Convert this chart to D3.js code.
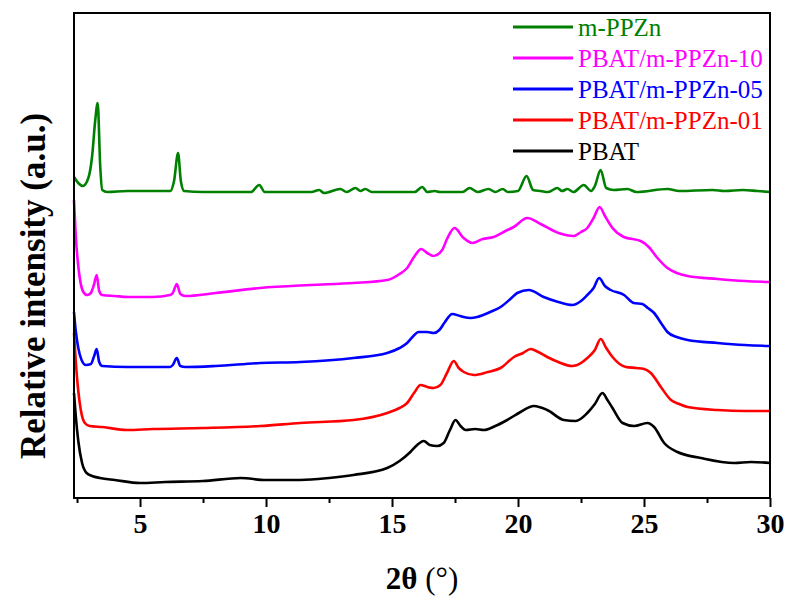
<!DOCTYPE html>
<html>
<head>
<meta charset="utf-8">
<script src="https://cdn.jsdelivr.net/npm/d3@7"></script>
<style>
  body { margin: 0; background: #fff; }
  svg { display: block; font-family: "Liberation Serif", "Times New Roman", serif; }
</style>
</head>
<body>
<svg id="xrd" width="788" height="596"></svg>
<script>
// XRD patterns, [2theta, relative intensity (a.u., stacked with offsets)]
const pbat = [[2.38,103],[2.45,80],[2.55,55],[2.7,33],[2.88,23],[3.1,20],[3.41,18],[4.0,16],[5.0,13],[6.0,14],[7.5,15],[9.0,18],[10.0,16],[11.36,16],[12.5,18],[13.47,21],[14.81,28],[15.3,35],[15.73,44],[16.0,51],[16.26,55],[16.5,51],[16.79,50],[17.05,53],[17.3,66],[17.52,76],[17.72,70],[17.92,66],[18.3,67],[18.64,66],[19.1,70],[19.57,76],[20.1,84],[20.63,90],[21.16,86],[21.82,76],[22.29,75],[22.75,83],[23.05,92],[23.35,103],[23.55,96],[23.75,88],[24.15,73],[24.61,70],[25.14,73],[25.4,69],[25.8,53],[26.33,44],[27.26,38],[28.58,33],[29.25,34],[30.0,33]];
const pbat01 = [[2.38,163],[2.45,135],[2.55,105],[2.65,86],[2.81,73],[3.0,70],[3.5,69],[4.48,66],[5.5,67],[7.5,68],[9.77,70],[11.36,73],[13.47,76],[14.81,83],[15.3,88],[15.6,93],[15.9,104],[16.13,111],[16.4,109],[16.65,108],[16.92,111],[17.2,124],[17.45,135],[17.65,128],[17.85,124],[18.25,121],[18.8,124],[19.31,128],[19.84,139],[20.2,143],[20.5,147],[20.8,144],[21.16,139],[21.6,134],[22.16,130],[22.5,133],[22.75,138],[23.05,146],[23.28,157],[23.5,148],[23.75,139],[24.28,129],[24.7,128],[25.0,127],[25.27,123],[25.67,109],[26.07,96],[26.4,92],[26.73,89],[27.92,86],[29.0,85],[30.0,85]];
const pbat05 = [[2.38,184],[2.45,165],[2.55,148],[2.68,136],[2.85,131],[3.05,132],[3.18,140],[3.28,147],[3.38,134],[3.5,130],[4.5,129],[6.19,129],[6.3,131],[6.46,138],[6.6,130],[6.8,129],[8.0,130],[9.77,133],[11.36,134],[13.47,138],[14.81,143],[15.3,148],[15.6,153],[15.85,160],[16.05,164],[16.4,164],[16.65,163],[16.88,166],[17.1,174],[17.39,182],[17.7,180],[18.12,178],[18.38,179],[18.9,184],[19.31,189],[19.7,197],[19.97,203],[20.43,206],[21.02,199],[21.6,194],[22.16,191],[22.5,195],[22.75,201],[23.0,208],[23.22,218],[23.45,210],[23.68,206],[24.21,201],[24.59,193],[24.94,192],[25.15,188],[25.4,183],[25.7,172],[25.93,164],[26.3,159],[26.73,156],[27.92,153],[29.0,151],[30.0,150]];
const pbat10 = [[2.38,296],[2.45,260],[2.55,230],[2.65,212],[2.75,204],[2.9,201],[3.05,203],[3.18,212],[3.28,221],[3.38,205],[3.5,201],[4.0,200],[4.5,199],[5.5,199],[6.19,201],[6.3,203],[6.46,212],[6.6,202],[6.8,200],[8.0,203],[9.77,208],[11.76,211],[13.47,213],[14.81,216],[15.3,222],[15.6,228],[15.9,240],[16.16,247],[16.4,243],[16.65,240],[16.99,246],[17.2,258],[17.48,268],[17.84,258],[18.18,253],[18.6,257],[19.03,259],[19.5,265],[19.83,269],[20.37,278],[20.9,272],[21.61,263],[22.21,260],[22.5,264],[22.75,268],[23.0,278],[23.24,289],[23.45,280],[23.75,268],[24.2,259],[24.87,255],[25.19,249],[25.5,239],[25.93,228],[26.3,223],[26.73,220],[27.92,217],[29.0,215],[30.0,214]];
const mppzn = [[2.38,319],[2.55,313],[2.73,310],[2.95,318],[3.1,340],[3.22,375],[3.32,393],[3.42,330],[3.5,306],[3.7,304],[4.5,305],[5.5,305],[6.2,305],[6.35,315],[6.51,343],[6.62,315],[6.75,305],[7.5,304],[9.4,304],[9.73,311],[9.95,304],[11.8,304],[12.11,306],[12.3,303],[12.95,307],[13.2,304],[13.55,308],[13.75,305],[13.94,307],[14.2,304],[15.9,304],[16.2,309],[16.4,304],[16.69,305],[16.9,304],[17.8,304],[18.08,308],[18.4,304],[18.83,307],[19.1,304],[19.39,307],[19.6,304],[20.0,305],[20.34,320],[20.6,306],[20.9,305],[21.2,304],[21.56,308],[21.75,305],[21.96,307],[22.2,304],[22.61,311],[22.9,305],[23.05,310],[23.28,326],[23.5,308],[23.8,306],[24.34,307],[24.7,304],[25.93,307],[26.4,305],[27.72,306],[28.2,305],[28.92,306],[29.5,305],[30.0,304]];

// legend order top to bottom
const seriesNames = ['m-PPZn', 'PBAT/m-PPZn-10', 'PBAT/m-PPZn-05', 'PBAT/m-PPZn-01', 'PBAT'];
const seriesData = [mppzn, pbat10, pbat05, pbat01, pbat];
const seriesColors = ['#008000', '#ff00ff', '#0000ff', '#ff0000', '#000000'];
const majorTicks = [5, 10, 15, 20, 25, 30];
const minorTicks = [2.5, 7.5, 12.5, 17.5, 22.5, 27.5];

const svg = d3.select('#xrd');
const plotL = 74, plotR = 770, plotT = 13, plotB = 498;

const x = d3.scaleLinear().domain([2.38, 30]).range([plotL, plotR]);
const y = d3.scaleLinear().domain([-2, 483]).range([plotB, plotT]);

const line = d3.line()
    .x(d => x(d[0]))
    .y(d => y(d[1]))
    .curve(d3.curveMonotoneX);

// curves, black drawn last so it sits on top like the original
for (let i = seriesData.length - 1; i >= 0; i--) {
  svg.append('path')
    .datum(seriesData[i])
    .attr('d', line)
    .attr('fill', 'none')
    .attr('stroke', seriesColors[i])
    .attr('stroke-width', 2.6)
    .attr('stroke-linejoin', 'round');
}

// frame (full box)
svg.append('path')
  .attr('d', 'M' + plotL + ',' + plotT + 'H' + plotR + 'V' + plotB + 'H' + plotL + 'Z')
  .attr('fill', 'none')
  .style('stroke', '#000')
  .style('stroke-width', '2px');

// bottom axis
const xAxis = svg.append('g')
  .attr('transform', 'translate(0,' + plotB + ')')
  .call(d3.axisBottom(x).tickValues(majorTicks).tickSize(9).tickPadding(6).tickFormat(d3.format('d')));
xAxis.select('.domain').remove();
xAxis.selectAll('.tick line').attr('stroke-width', 2);
xAxis.selectAll('.tick text')
  .attr('font-family', '"Liberation Serif", "Times New Roman", serif')
  .attr('font-size', 28).attr('font-weight', 'bold').attr('fill', 'black');

const xMinor = svg.append('g')
  .attr('transform', 'translate(0,' + plotB + ')')
  .call(d3.axisBottom(x).tickValues(minorTicks).tickSize(5).tickFormat(''));
xMinor.select('.domain').remove();
xMinor.selectAll('.tick line').attr('stroke-width', 2);

// axis titles
const xt = svg.append('text')
  .attr('x', (plotL + plotR) / 2).attr('y', 589)
  .attr('text-anchor', 'middle').attr('font-size', 31);
xt.append('tspan').attr('font-weight', 'bold').text('2θ');
xt.append('tspan').text(' (°)');

svg.append('text')
  .attr('transform', 'translate(45,286) rotate(-90)')
  .attr('text-anchor', 'middle')
  .attr('font-size', 35).attr('font-weight', 'bold')
  .text('Relative intensity (a.u.)');

// legend
const legend = svg.append('g');
seriesNames.forEach((name, i) => {
  const ly = 27 + i * 31;
  legend.append('line')
    .attr('x1', 513).attr('x2', 573).attr('y1', ly).attr('y2', ly)
    .attr('stroke', seriesColors[i]).attr('stroke-width', 3);
  legend.append('text')
    .attr('x', 578).attr('y', ly + 8.5)
    .attr('font-size', 25).attr('fill', seriesColors[i])
    .text(name);
});
</script>
</body>
</html>
